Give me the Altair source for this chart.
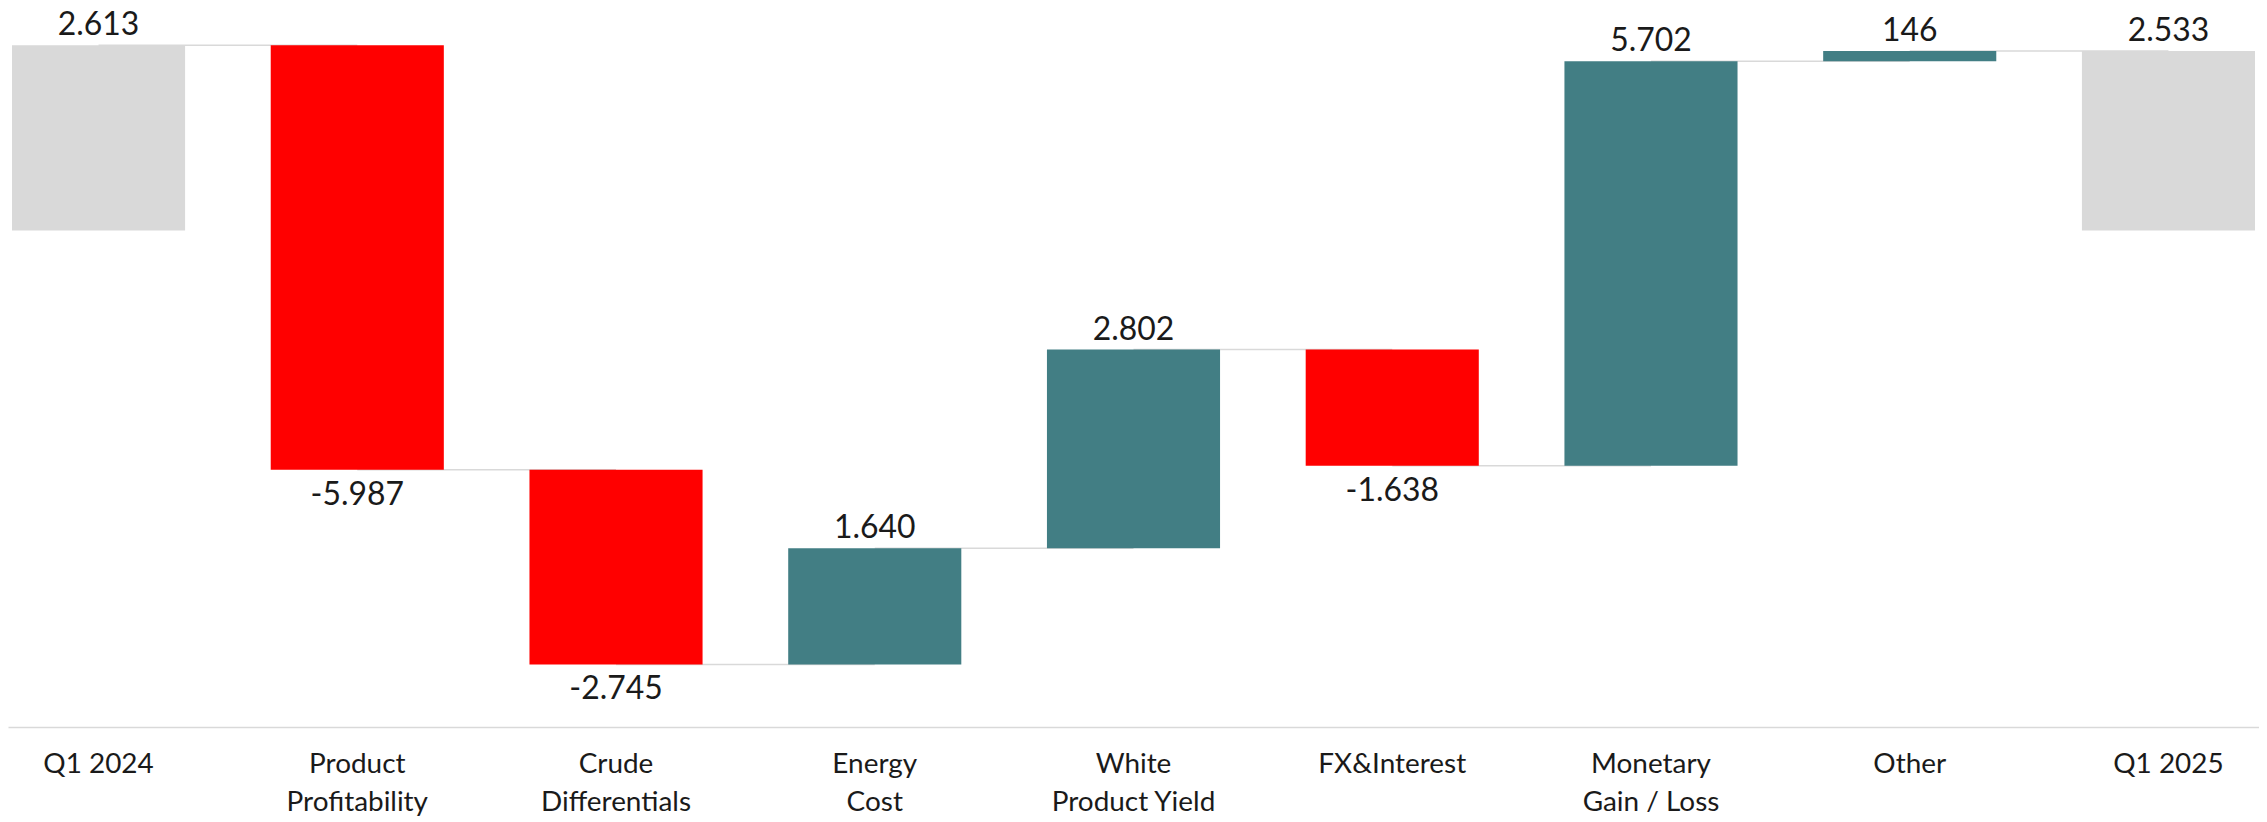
import altair as alt
import pandas as pd

# ---- data ----
categories = ["Q1 2024", "Product Profitability", "Crude Differentials", "Energy Cost",
              "White Product Yield", "FX&Interest", "Monetary Gain / Loss", "Other", "Q1 2025"]
label_lines = [["Q1 2024"], ["Product", "Profitability"], ["Crude", "Differentials"],
               ["Energy", "Cost"], ["White", "Product Yield"], ["FX&Interest"],
               ["Monetary", "Gain / Loss"], ["Other"], ["Q1 2025"]]
kinds = ["total", "delta", "delta", "delta", "delta", "delta", "delta", "delta", "total"]
values = [2613, -5987, -2745, 1640, 2802, -1638, 5702, 146, 2533]

GRAY = "#D9D9D9"
TEAL = "#427E84"
RED = "#FF0000"
TXT = "#1a1a1a"
FONT = "Lato"

rows = []
running = 0
for cat, kind, v in zip(categories, kinds, values):
    if kind == "total":
        start, end = 0, v
        running = v
        typ = "total"
    else:
        start, end = running, running + v
        running = end
        typ = "up" if v > 0 else "down"
    pos = "above" if (kind == "total" or v > 0) else "below"
    rows.append(dict(cat=cat, start=start, end=end, typ=typ, pos=pos,
                     ly=max(start, end) if pos == "above" else min(start, end),
                     label=f"{v:,}".replace(",", ".")))
df = pd.DataFrame(rows)
df_above = df[df["pos"] == "above"]
df_below = df[df["pos"] == "below"]

conn = pd.DataFrame([dict(frm=categories[i], to=categories[i + 1], level=rows[i]["end"])
                     for i in range(len(categories) - 1)])

# multi-line axis labels
label_expr = ""
for cat, lines in zip(categories, label_lines):
    label_expr += f"datum.value == '{cat}' ? split('{'|'.join(lines)}', '|') : "
label_expr += "datum.label"

xscale = alt.Scale(domain=categories, paddingInner=0.331, paddingOuter=0.0154)
yscale = alt.Scale(domain=[-7000, 3120], nice=False, zero=False)

x_axis = alt.Axis(title=None, labelAngle=0, ticks=False, grid=False,
                  domainColor=GRAY, domainWidth=1.5, labelFont=FONT, labelFontSize=28,
                  labelColor=TXT, labelPadding=24, labelLimit=0, labelLineHeight=38,
                  labelExpr=label_expr)

bars = alt.Chart(df).mark_bar().encode(
    x=alt.X("cat:N", scale=xscale, axis=x_axis),
    y=alt.Y("start:Q", scale=yscale, axis=None),
    y2="end:Q",
    color=alt.Color("typ:N", scale=alt.Scale(domain=["total", "up", "down"],
                                             range=[GRAY, TEAL, RED]), legend=None),
)

rules = alt.Chart(conn).mark_rule(color=GRAY, strokeWidth=1.5).encode(
    x=alt.X("frm:N", scale=xscale, axis=x_axis),
    x2=alt.X2("to:N"),
    y=alt.Y("level:Q", scale=yscale, axis=None),
)

above = alt.Chart(df_above).mark_text(
    font=FONT, fontSize=32, color=TXT, baseline="alphabetic", dy=-10
).encode(
    x=alt.X("cat:N", scale=xscale, axis=x_axis),
    y=alt.Y("ly:Q", scale=yscale, axis=None),
    text="label:N",
)

below = alt.Chart(df_below).mark_text(
    font=FONT, fontSize=32, color=TXT, baseline="alphabetic", dy=35
).encode(
    x=alt.X("cat:N", scale=xscale, axis=x_axis),
    y=alt.Y("ly:Q", scale=yscale, axis=None),
    text="label:N",
)

chart = alt.layer(rules, bars, above, below).properties(
    width=2258, height=720, padding=0,
).configure_view(strokeWidth=0)

chart.save("out.html", embed_options={"renderer": "svg", "actions": False})
